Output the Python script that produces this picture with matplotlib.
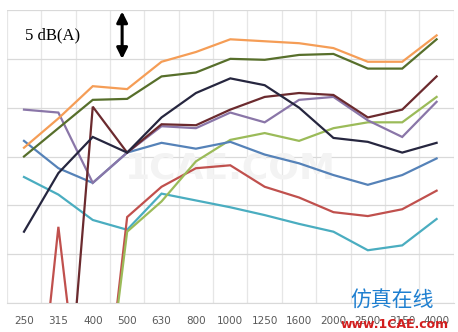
import matplotlib
matplotlib.use("Agg")
import matplotlib.pyplot as plt

# 1/3 octave bands
bands = ["250", "315", "400", "500", "630", "800", "1000", "1250",
         "1600", "2000", "2500", "3150", "4000"]

# relative levels, dB(A)
orange = [15.9, 18.9, 22.2, 21.9, 24.7, 25.7, 27.0, 26.8, 26.6, 26.1, 24.7, 24.7, 27.4]
olive = [15.0, 17.9, 20.8, 20.9, 23.2, 23.6, 25.0, 24.9, 25.4, 25.5, 24.0, 24.0, 27.0]
navy = [7.3, 13.3, 17.0, 15.4, 19.0, 21.5, 23.0, 22.3, 20.0, 16.9, 16.5, 15.4, 16.4]
maroon = [-23.0, -23.0, 20.1, 15.4, 18.3, 18.2, 19.8, 21.1, 21.5, 21.3, 19.0, 19.8, 23.2]
purple = [19.8, 19.5, 12.3, 15.4, 18.1, 17.9, 19.5, 18.5, 20.8, 21.1, 18.7, 17.0, 20.6]
blue = [16.6, 13.8, 12.3, 15.4, 16.4, 15.8, 16.5, 15.2, 14.3, 13.1, 12.1, 13.1, 14.8]
lgreen = [-21.0, -21.0, -21.0, 7.3, 10.4, 14.5, 16.7, 17.4, 16.6, 17.9, 18.5, 18.5, 21.1]
red = [-25.6, 7.8, -22.0, 8.8, 11.9, 13.8, 14.1, 11.9, 10.8, 9.3, 8.9, 9.6, 11.5]
teal = [12.9, 11.1, 8.5, 7.5, 11.2, 10.5, 9.8, 9.0, 8.1, 7.3, 5.4, 5.9, 8.6]

series = [
    (teal, "#4AADC0"),
    (red, "#C0504D"),
    (lgreen, "#9BBB59"),
    (blue, "#5582B8"),
    (purple, "#8A76A8"),
    (maroon, "#6B2A2E"),
    (navy, "#26263F"),
    (olive, "#576F2B"),
    (orange, "#F59D56"),
]

fig = plt.figure(figsize=(4.58, 3.32), dpi=100)
ax = fig.add_axes([6.8 / 458, 29 / 332, 447 / 458, 293 / 332])

x = list(range(len(bands)))
for vals, col in series:
    ax.plot(x, vals, color=col, lw=1.6, solid_joinstyle="miter", zorder=3)

ax.set_xlim(-0.5, len(bands) - 0.5)
ax.set_ylim(0, 30)
ax.set_yticks(range(0, 31, 5))
ax.set_yticklabels([])
ax.set_xticks(x)
ax.set_xticklabels(bands, family=["Liberation Sans Narrow", "DejaVu Sans"],
                   fontsize=7.5, color="#595959")
ax.set_xticks([i - 0.5 for i in range(len(bands) + 1)], minor=True)
ax.tick_params(axis="both", which="both", length=0, pad=9)
ax.grid(True, which="major", axis="y", color="#D9D9D9", lw=0.9)
ax.grid(True, which="minor", axis="x", color="#E6E6E6", lw=0.9)
ax.set_axisbelow(True)
for s in ["top", "right", "left"]:
    ax.spines[s].set_visible(False)
ax.spines["bottom"].set_color("#D9D9D9")

# scale marker
ax.annotate("", xy=(0.258, 0.995), xytext=(0.258, 0.833), xycoords="axes fraction",
            arrowprops=dict(arrowstyle="<|-|>", color="black", lw=2.2,
                            mutation_scale=16, shrinkA=0, shrinkB=0))
ax.text(0.041, 0.915, "5 dB(A)", transform=ax.transAxes, va="center", ha="left",
        fontsize=12, family="Liberation Serif")

# site mark
ax.text(0.5, 0.46, "1CAE.COM", transform=ax.transAxes, fontsize=26, color="#F3F3F3",
        ha="center", va="center", fontweight="bold", zorder=1)
fig.text(0.856, 0.094, "仿真在线", fontsize=15, color="#1E7FD0", ha="center",
         va="center", family=["Noto Sans CJK SC", "DejaVu Sans"])
fig.text(0.862, 0.022, "www.1CAE.com", fontsize=9, color="#D21E1E", ha="center",
         va="center", fontweight="bold")

fig.savefig("out.png", dpi=100)
